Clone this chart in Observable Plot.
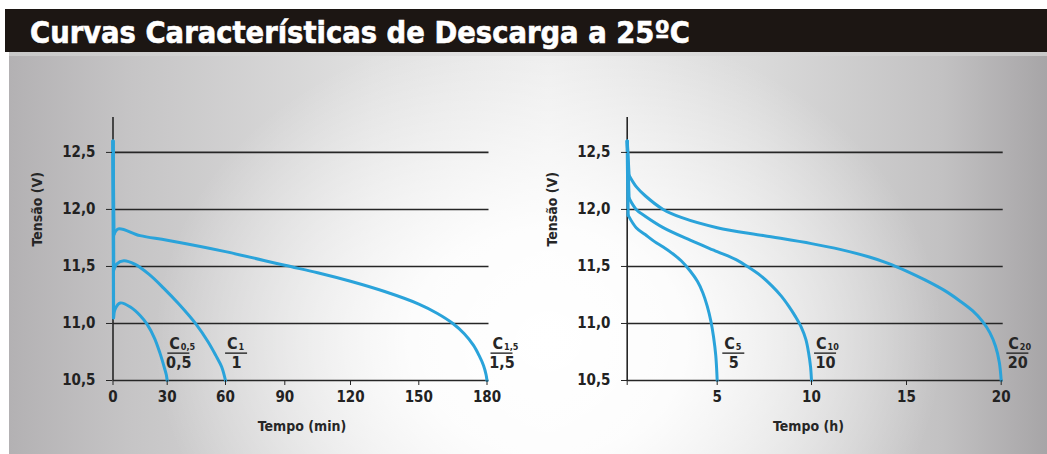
<!DOCTYPE html>
<html><head><meta charset="utf-8">
<script src="https://cdn.jsdelivr.net/npm/d3@7"></script>
<script src="https://cdn.jsdelivr.net/npm/@observablehq/plot@0.6"></script>
<style>
html,body{margin:0;padding:0;background:#fff;}
#page{position:relative;width:1047px;height:454px;overflow:hidden;font-family:"DejaVu Sans Condensed","DejaVu Sans",sans-serif;font-stretch:condensed;}
#bg{position:absolute;left:9px;top:52px;right:0;bottom:0;
 background:
  radial-gradient(ellipse 38% 80% at 52% 72%, rgba(255,255,255,1) 0%, rgba(255,255,255,0.9) 35%, rgba(255,255,255,0) 100%),
  linear-gradient(to right, #b3b1b3 0%, #c6c5c6 12%, #e0e0e0 35%, #ececec 52%, #dadada 72%, #c2c1c2 90%, #a7a5a7 100%);}
#strip{position:absolute;left:9px;right:0;top:52px;height:4px;background:linear-gradient(to right,#c8c8c8,#e4e4e4 50%,#c8c8c8);}
#band{position:absolute;left:5px;top:9px;right:0;height:43px;background:#1c1613;}
#title{position:absolute;left:30px;top:17px;color:#fff;font-weight:900;font-size:31px;line-height:30px;white-space:nowrap;transform-origin:0 0;-webkit-text-stroke:0.6px #fff;}
#left{position:absolute;left:0;top:55px;}
#right{position:absolute;left:520px;top:55px;}
</style></head>
<body>
<div id="page">
 <div id="bg"></div>
 <div id="strip"></div>
 <div id="band"></div>
 <div id="title">Curvas Características de Descarga a 25ºC</div>
 <div id="left"></div>
 <div id="right"></div>
</div>
<script>
// ---- ticks / categories
const voltTicks = [10.5, 11, 11.5, 12, 12.5];
const leftTicks = [0, 30, 60, 90, 120, 150, 180];   // Tempo (min)
const rightTicks = [0, 5, 10, 15, 20];              // Tempo (h)
const rightTickLabels = ["", "5", "10", "15", "20"];

// ---- left chart series (minutes, volts); first point = initial peak at t=0
const c05_t = [0, 0.3, 1, 4, 10, 15, 19, 23, 26, 28.3, 29.5, 30];
const c05_v = [12.6, 11.05, 11.12, 11.18, 11.14, 11.07, 10.99, 10.87, 10.74, 10.62, 10.55, 10.5];
const c1_t = [0, 0.4, 2, 6, 12, 20, 28, 36, 45, 51, 55, 58, 60];
const c1_v = [12.6, 11.47, 11.52, 11.55, 11.52, 11.43, 11.31, 11.17, 10.99, 10.84, 10.72, 10.62, 10.5];
const c15_t = [0, 0.5, 3, 15, 30, 60, 90, 105, 120, 135, 150, 158, 165, 170, 174, 176.5, 178.5, 179.6, 180];
const c15_v = [12.6, 11.78, 11.83, 11.77, 11.73, 11.63, 11.51, 11.445, 11.37, 11.28, 11.17, 11.09, 11.0, 10.91, 10.81, 10.72, 10.63, 10.55, 10.5];

// ---- right chart series (hours, volts)
const c5_t = [0, 0.05, 0.5, 1, 1.5, 2, 2.5, 3, 3.5, 3.9, 4.2, 4.45, 4.65, 4.8, 4.92, 5];
const c5_v = [12.6, 11.95, 11.84, 11.78, 11.72, 11.67, 11.615, 11.55, 11.46, 11.37, 11.27, 11.15, 11.02, 10.88, 10.72, 10.5];
const c10_t = [0, 0.1, 0.5, 1, 2, 3.5, 5, 6, 6.6, 7.3, 7.9, 8.4, 8.8, 9.15, 9.45, 9.7, 9.85, 9.95, 10];
const c10_v = [12.6, 12.1, 12.0, 11.94, 11.84, 11.73, 11.63, 11.56, 11.5, 11.42, 11.33, 11.24, 11.15, 11.06, 10.97, 10.86, 10.74, 10.62, 10.5];
const c20_t = [0, 0.1, 0.5, 1, 2, 3, 5, 7.5, 10, 11.5, 13, 14, 15, 16, 17, 17.8, 18.5, 19, 19.4, 19.7, 19.9, 20];
const c20_v = [12.6, 12.3, 12.2, 12.12, 12.0, 11.93, 11.84, 11.77, 11.7, 11.65, 11.585, 11.53, 11.46, 11.38, 11.29, 11.2, 11.11, 11.02, 10.92, 10.8, 10.66, 10.5];

// ---- curve labels (fraction C_n / n)
const leftLabelT = [36, 65.6, 186.6];
const leftLabelSub = ["0,5", "1", "1,5"];
const rightLabelT = [5.88, 10.74, 20.88];
const rightLabelSub = ["5", "10", "20"];
const labelV = 10.74;

const toRows = (name, ts, vs) => ts.map((t, i) => ({series: name, t, v: vs[i]}));
const leftSeries = [toRows("C0,5", c05_t, c05_v), toRows("C1", c1_t, c1_v), toRows("C1,5", c15_t, c15_v)];
const rightSeries = [toRows("C5", c5_t, c5_v), toRows("C10", c10_t, c10_v), toRows("C20", c20_t, c20_v)];
const leftLabels = leftLabelT.map((t, i) => ({t, sub: leftLabelSub[i]}));
const rightLabels = rightLabelT.map((t, i) => ({t, sub: rightLabelSub[i]}));

const BLUE = "#2aa3da";
const INK = "#262626";
const fmtV = d => d.toFixed(1).replace(".", ",");
const svgStyle = "font-family:'DejaVu Sans Condensed','DejaVu Sans',sans-serif;font-stretch:condensed;font-weight:bold;background:transparent;overflow:visible;max-width:none;color:#222;";

function labelMarks(labels) {
  return [
    Plot.text(labels, {x: "t", y: () => labelV, text: () => "C", textAnchor: "end", dx: 1, dy: -9, fontSize: 16, fontWeight: "bold", fill: INK}),
    Plot.text(labels, {x: "t", y: () => labelV, text: "sub", textAnchor: "start", dx: 2, dy: -6, fontSize: 9, fontWeight: "bold", fill: INK}),
    Plot.ruleY(labels, {x1: "t", x2: "t", y: () => labelV, insetLeft: -11, insetRight: -11, stroke: INK, strokeWidth: 1.4}),
    Plot.text(labels, {x: "t", y: () => labelV, text: "sub", dy: 10, fontSize: 16, fontWeight: "bold", fill: INK})
  ];
}

function chart({width, marginLeft, marginRight, xDomain, xRange, series, ticks, tickFmt, labels, xLabel, xLabelDx}) {
  const xMax = xDomain[xDomain.length - 1];
  const spikes = series.flatMap(s => s.slice(0, 2));
  const bodies = series.flatMap(s => s.slice(1));
  return Plot.plot({
    width, height: 399,
    marginLeft, marginRight, marginTop: 57, marginBottom: 74,
    style: svgStyle,
    x: {type: "linear", domain: xDomain, range: xRange},
    y: {domain: [10.5, 12.85]},
    marks: [
      Plot.ruleY(voltTicks, {x1: xDomain[0], x2: xMax, insetRight: -2, stroke: INK, strokeWidth: 1.6}),
      Plot.ruleX([xDomain[0]], {y1: 10.5, y2: 12.85, insetBottom: -5, stroke: INK, strokeWidth: 1.6}),
      Plot.line(spikes, {x: "t", y: "v", z: "series", stroke: BLUE, strokeWidth: 3.2}),
      Plot.line(bodies, {x: "t", y: "v", z: "series", stroke: BLUE, strokeWidth: 3, curve: "catmull-rom"}),
      Plot.axisY(voltTicks, {tickSize: 6, tickPadding: 11, tickFormat: fmtV, fontSize: 15, fontWeight: "bold", stroke: INK, label: null}),
      Plot.axisX(ticks, {tickSize: 5, tickPadding: 6, tickFormat: tickFmt, fontSize: 15, fontWeight: "bold", stroke: INK, label: null}),
      Plot.text(["Tensão (V)"], {frameAnchor: "left", rotate: -90, dx: -75, fontSize: 14, fontWeight: "bold", fill: INK}),
      Plot.text([xLabel], {frameAnchor: "bottom", dy: 50, dx: xLabelDx, fontSize: 14, fontWeight: "bold", fill: INK}),
      ...labelMarks(labels)
    ]
  });
}

document.getElementById("left").append(chart({
  width: 520, marginLeft: 112, marginRight: 33,
  xDomain: leftTicks, xRange: [112.5, 166.7, 225, 284.3, 350, 418.3, 486.5],
  series: leftSeries, ticks: leftTicks, tickFmt: d => String(d),
  labels: leftLabels, xLabel: "Tempo (min)", xLabelDx: 2
}));

document.getElementById("right").append(chart({
  width: 527, marginLeft: 107, marginRight: 46,
  xDomain: rightTicks, xRange: [106.7, 196.7, 291, 386, 480.7],
  series: rightSeries, ticks: rightTicks, tickFmt: d => rightTickLabels[rightTicks.indexOf(d)],
  labels: rightLabels, xLabel: "Tempo (h)", xLabelDx: -6
}));

const title = document.getElementById("title");
const w = title.getBoundingClientRect().width;
title.style.transform = `scaleX(${660 / w})`;
</script>
</body></html>
